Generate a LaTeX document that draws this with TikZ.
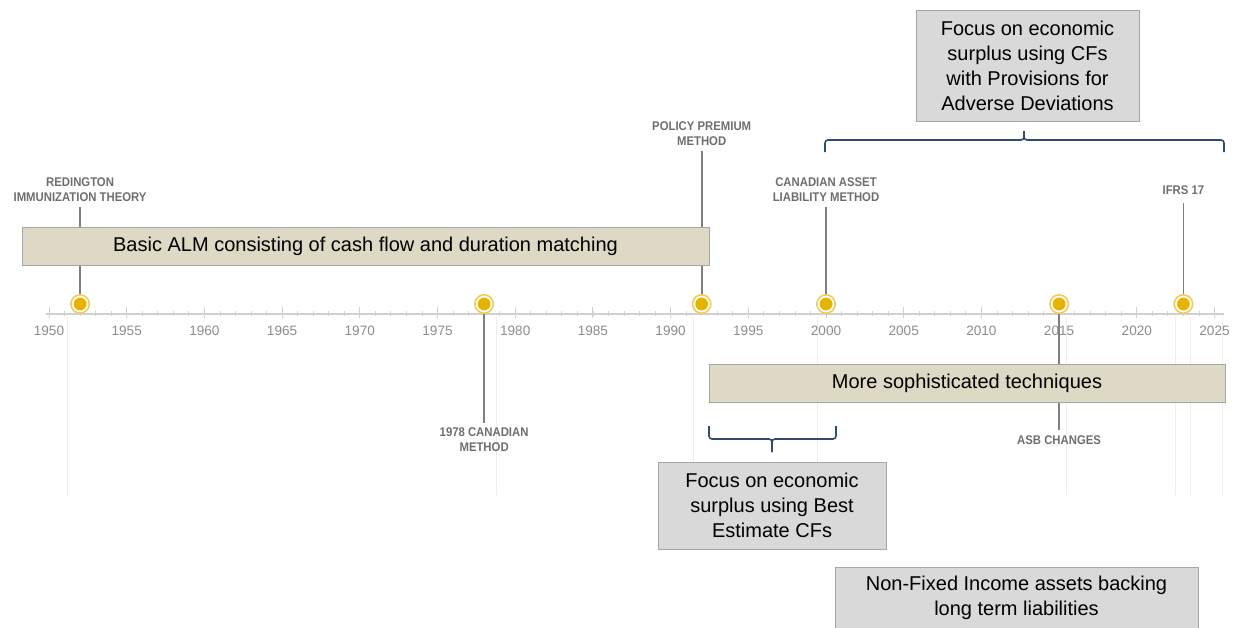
\documentclass[tikz,border=0pt]{standalone}
\usepackage{fontspec}
\setmainfont{Liberation Sans}
\newfontfamily\condfont[FakeStretch=0.9]{Liberation Sans Bold}
\usepackage{tikz}
\usetikzlibrary{positioning}
\usepackage{xcolor}

\definecolor{markgold}{HTML}{E6B400}
\definecolor{ringgold}{HTML}{F2CC55}
\definecolor{tanfill}{HTML}{DDD9C4}
\definecolor{greyfill}{HTML}{D9D9D9}
\definecolor{boxedge}{HTML}{A6A6A6}
\definecolor{bracecol}{HTML}{2F4B70}
\definecolor{labelgrey}{HTML}{6E6E6E}
\definecolor{yeargrey}{HTML}{8C8C8C}
\definecolor{axisgrey}{HTML}{D0D0D0}

% year -> x position (pixels of the chart)
\newcommand{\yx}[1]{49+(#1-1950)*15.54}

\begin{document}
\begin{tikzpicture}[x=0.5pt, y=0.5pt]
    % Styles
    \tikzstyle{event} = [circle, draw=ringgold, line width=0.8pt, fill=white, minimum size=9.2pt, inner sep=0pt, path picture={\fill[markgold] (path picture bounding box.center) circle (3.2pt);}]
    \tikzstyle{eventlabel} = [align=center, text=labelgrey, inner sep=2.5pt, font=\condfont\fontsize{6.3}{7.5}\selectfont]
    \tikzstyle{stem} = [draw=gray, line width=0.9pt]
    \tikzstyle{yearlabel} = [text=yeargrey, font=\fontsize{6.8}{8}\selectfont]
    \tikzstyle{guideline} = [draw=black!7, line width=0.5pt]
    \tikzstyle{era} = [rectangle, draw=boxedge, fill=tanfill, line width=0.5pt, minimum height=19pt, font=\fontsize{10}{12}\selectfont]
    \tikzstyle{note} = [rectangle, draw=boxedge, fill=greyfill, line width=0.5pt, align=center, font=\fontsize{10}{12.5}\selectfont]
    \tikzstyle{bracket} = [draw=bracecol, line width=0.8pt, rounded corners=1.5pt]

    \useasboundingbox (0,0) rectangle (1241,-627);

    % Axis
    \foreach \gx in {67,496,693,817,1066,1175,1190,1222}
        \draw[guideline] (\gx,-317) -- (\gx,-495);
    \draw[axisgrey, line width=0.6pt] (46,-314) -- (1224,-314);
    \foreach \y in {1950,...,2025}
        \draw[axisgrey, line width=0.4pt] ({\yx{\y}},-311) -- ({\yx{\y}},-316);
    \foreach \y in {1950,1955,...,2025} {
        \draw[axisgrey, line width=0.5pt] ({\yx{\y}},-307) -- ({\yx{\y}},-318);
        \node[yearlabel] (y\y) at ({\yx{\y}},-331) {\y};
    }

    % Events
    \node[event] (e1952) at ({\yx{1952}},-304) {};
    \node[event] (e1978) at ({\yx{1978}},-304) {};
    \node[event] (e1992) at ({\yx{1992}},-304) {};
    \node[event] (e2000) at ({\yx{2000}},-304) {};
    \node[event] (e2015) at ({\yx{2015}},-304) {};
    \node[event] (e2023) at ({\yx{2023}},-304) {};

    \node[eventlabel, above of=e1952, node distance=57pt] (l1952) {REDINGTON\\IMMUNIZATION THEORY};
    \node[eventlabel, below of=e1978, node distance=68pt] (l1978) {1978 CANADIAN\\METHOD};
    \node[eventlabel, above of=e1992, node distance=85pt] (l1992) {POLICY PREMIUM\\METHOD};
    \node[eventlabel, above of=e2000, node distance=57pt] (l2000) {CANADIAN ASSET\\LIABILITY METHOD};
    \node[eventlabel, below of=e2015, node distance=68pt] (l2015) {ASB CHANGES};
    \node[eventlabel, above of=e2023, node distance=57pt, inner sep=4pt] (l2023) {IFRS 17};

    \draw[stem] (e1952.north) -- (l1952.south);
    \draw[stem] (e1978.south) -- (l1978.north);
    \draw[stem] (e1992.north) -- (l1992.south);
    \draw[stem] (e2000.north) -- (l2000.south);
    \draw[stem] (e2015.south) -- (l2015.north);
    \draw[stem] (e2023.north) -- (l2023.south);

    % Eras
    \node[era, minimum width=343.5pt] (basic) at (365.5,-246) {Basic ALM consisting of cash flow and duration matching};
    \node[era, minimum width=258pt] (sophisticated) at (967,-383) {More sophisticated techniques};

    % Notes
    \node[note, minimum width=111.5pt, minimum height=55.5pt] (pfad) at (1027.5,-65.5) {Focus on economic\\surplus using CFs\\with Provisions for\\Adverse Deviations};
    \node[note, minimum width=114pt, minimum height=43.5pt] (bestest) at (772,-505.5) {Focus on economic\\surplus using Best\\Estimate CFs};
    \node[note, minimum width=181.5pt, minimum height=30.5pt] (nonfixed) at (1016.5,-597.5) {Non-Fixed Income assets backing\\long term liabilities};

    % Brackets
    \coordinate (pfadL) at (825,-152);
    \coordinate (pfadR) at (1224,-152);
    \coordinate (pfadTip) at (1024,-131);
    \draw[bracket] (pfadL) -- (825,-140) -- (1024,-140) -- (pfadTip);
    \draw[bracket] (pfadR) -- (1224,-140) -- (1024,-140) -- (pfadTip);

    \coordinate (bestL) at (709,-426);
    \coordinate (bestR) at (836,-426);
    \coordinate (bestTip) at (772,-452);
    \draw[bracket] (bestL) -- (709,-439) -- (772,-439) -- (bestTip);
    \draw[bracket] (bestR) -- (836,-439) -- (772,-439) -- (bestTip);

\end{tikzpicture}
\end{document}
